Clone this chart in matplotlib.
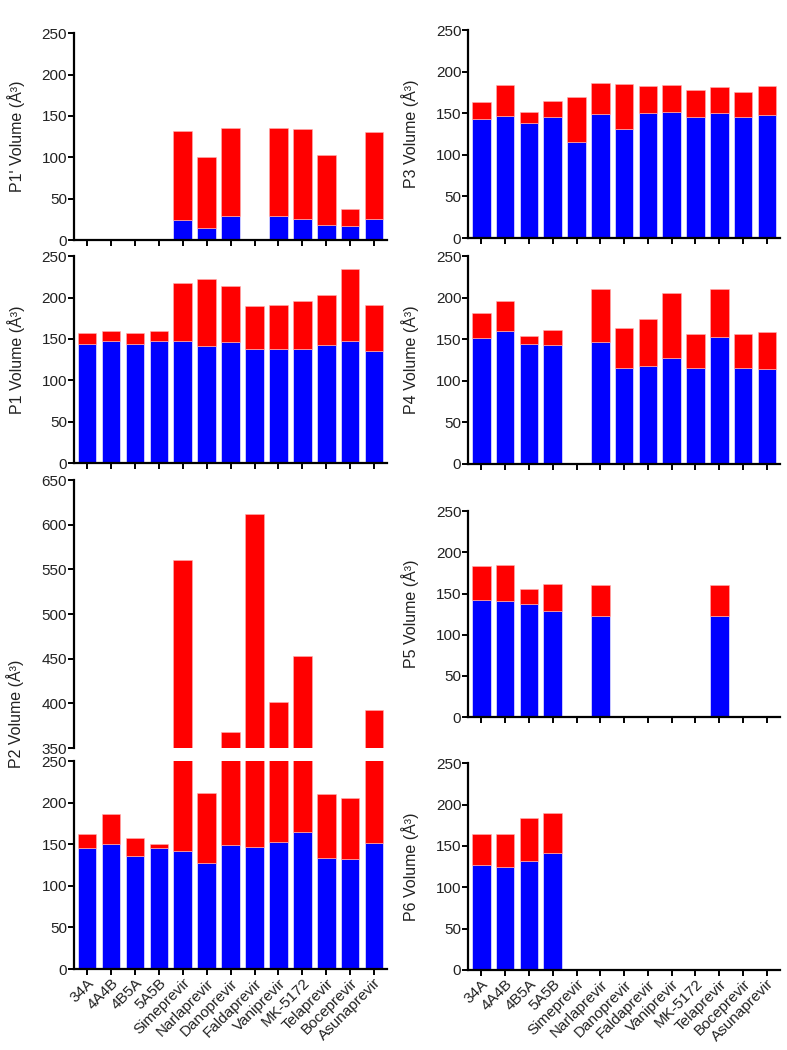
import numpy as np
import matplotlib
matplotlib.use("Agg")
import matplotlib.pyplot as plt

plt.rcParams['font.family'] = ['Liberation Sans', 'DejaVu Sans']
plt.rcParams['font.size'] = 11

nan = np.nan
categories = ['34A', '4A4B', '4B5A', '5A5B', 'Simeprevir', 'Narlaprevir', 'Danoprevir',
              'Faldaprevir', 'Vaniprevir', 'MK-5172', 'Telaprevir', 'Boceprevir', 'Asunaprevir']

# total volume (top of red) and blue portion for each pocket
p1p_total = [nan, nan, nan, nan, 132, 100, 135, nan, 135, 134, 103, 38, 131]
p1p_blue = [nan, nan, nan, nan, 24, 15, 29, nan, 29, 26, 18, 17, 26]

p1_total = [157, 160, 157, 159, 218, 222, 214, 190, 191, 196, 203, 235, 191]
p1_blue = [144, 148, 144, 148, 148, 142, 146, 138, 138, 138, 143, 148, 136]

p2_total = [162, 186, 157, 150, 560, 212, 368, 612, 402, 453, 210, 206, 393]
p2_blue = [145, 150, 136, 145, 142, 128, 149, 147, 153, 165, 133, 132, 151]

p3_total = [163, 184, 152, 165, 170, 186, 185, 183, 184, 178, 182, 176, 183]
p3_blue = [143, 147, 138, 146, 116, 149, 131, 150, 151, 145, 150, 146, 148]

p4_total = [182, 196, 154, 161, nan, 210, 163, 174, 206, 156, 210, 156, 159]
p4_blue = [151, 160, 144, 143, nan, 147, 116, 118, 127, 115, 153, 116, 114]

p5_total = [184, 185, 155, 162, nan, 160, nan, nan, nan, nan, 161, nan, nan]
p5_blue = [142, 141, 137, 129, nan, 123, nan, nan, nan, nan, 123, nan, nan]

p6_total = [164, 164, 184, 190, nan, nan, nan, nan, nan, nan, nan, nan, nan]
p6_blue = [127, 124, 132, 141, nan, nan, nan, nan, nan, nan, nan, nan, nan]

BLUE = '#0000FF'
RED = '#FF0000'
x = np.arange(len(categories))


def style(ax, ylim, yticks, show_labels=False, xaxis=True):
    ax.set_xlim(-0.55, 12.55)
    ax.set_ylim(*ylim)
    ax.set_yticks(yticks)
    for s in ['top', 'right']:
        ax.spines[s].set_visible(False)
    ax.spines['left'].set_linewidth(1.6)
    ax.spines['bottom'].set_linewidth(1.6)
    ax.tick_params(axis='both', direction='out', length=4, width=1.4, pad=1,
                   labelsize=11, labelcolor='#222222')
    if xaxis:
        ax.set_xticks(x)
        if show_labels:
            ax.set_xticklabels(categories, rotation=45, ha='right', rotation_mode='anchor')
        else:
            ax.set_xticklabels([])
    else:
        ax.spines['bottom'].set_visible(False)
        ax.set_xticks([])


def draw(ax, total, blue):
    total = np.array(total, dtype=float)
    blue = np.array(blue, dtype=float)
    ax.bar(x, blue, width=0.78, color=BLUE, edgecolor='white', linewidth=0.4)
    ax.bar(x, total - blue, bottom=blue, width=0.78, color=RED, edgecolor='#ffb0b0', linewidth=0.4)


fig = plt.figure(figsize=(7.87, 10.5), dpi=100)

lx, lw = 0.094, 0.398
rx, rw = 0.595, 0.396
ylab = dict(fontsize=11.5, labelpad=12, color='#222222')

ax = fig.add_axes([lx, 0.7714, lw, 0.197])
draw(ax, p1p_total, p1p_blue)
style(ax, (0, 250), range(0, 251, 50))
ax.set_ylabel("P1' Volume (Å³)", **ylab)

ax = fig.add_axes([lx, 0.559, lw, 0.197])
draw(ax, p1_total, p1_blue)
style(ax, (0, 250), range(0, 251, 50))
ax.set_ylabel("P1 Volume (Å³)", **ylab)

# P2 has a broken y axis
ax_up = fig.add_axes([lx, 0.2876, lw, 0.2552])
draw(ax_up, p2_total, p2_blue)
style(ax_up, (350, 650), range(350, 651, 50), xaxis=False)
ax_lo = fig.add_axes([lx, 0.0771, lw, 0.198])
draw(ax_lo, p2_total, p2_blue)
style(ax_lo, (0, 250), range(0, 251, 50), show_labels=True)
fig.text(0.019, 0.32, "P2 Volume (Å³)", rotation=90, fontsize=11.5, color='#222222',
         va='center', ha='center')

ax = fig.add_axes([rx, 0.7733, rw, 0.198])
draw(ax, p3_total, p3_blue)
style(ax, (0, 250), range(0, 251, 50))
ax.set_ylabel("P3 Volume (Å³)", **ylab)

ax = fig.add_axes([rx, 0.5581, rw, 0.198])
draw(ax, p4_total, p4_blue)
style(ax, (0, 250), range(0, 251, 50))
ax.set_ylabel("P4 Volume (Å³)", **ylab)

ax = fig.add_axes([rx, 0.3171, rw, 0.196])
draw(ax, p5_total, p5_blue)
style(ax, (0, 250), range(0, 251, 50))
ax.set_ylabel("P5 Volume (Å³)", **ylab)

ax = fig.add_axes([rx, 0.0762, rw, 0.197])
draw(ax, p6_total, p6_blue)
style(ax, (0, 250), range(0, 251, 50), show_labels=True)
ax.set_ylabel("P6 Volume (Å³)", **ylab)

fig.savefig('out.png', dpi=100)
